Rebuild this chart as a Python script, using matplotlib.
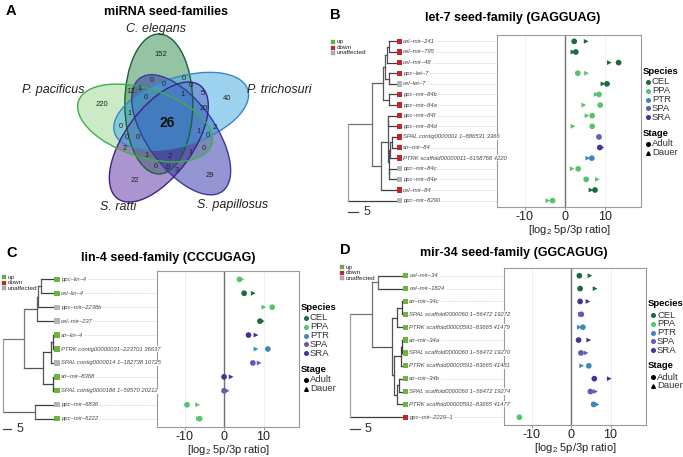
import numpy as np
import matplotlib
matplotlib.use('Agg')
import matplotlib.pyplot as plt
from matplotlib.patches import Ellipse
from matplotlib.lines import Line2D
from matplotlib.transforms import blended_transform_factory

plt.rcParams['font.family'] = ['Liberation Sans', 'DejaVu Sans']
plt.rcParams['mathtext.fontset'] = 'custom'
plt.rcParams['mathtext.rm'] = 'Liberation Sans'
plt.rcParams['axes.unicode_minus'] = False

W, H = 683, 457

# ---- panel A: shared seed families
venn_sets = ["C. elegans", "P. trichosuri", "S. papillosus", "S. ratti", "P. pacificus"]
venn_fill = ["#2a8a4a", "#3fa9e3", "#2b2da6", "#5a2aa0", "#9ad68f"]
venn_edge = ["#1f5f35", "#3b86c0", "#3a3a9a", "#3e2386", "#3fae4a"]
venn_counts = [152, 40, 29, 22, 220, 26,
               12, 1, 0, 0, 0, 0, 1, 5, 0, 20, 1, 2, 0, 1, 0, 0, 0, 0, 2, 1, 2, 1, 0, 0, 3]
# where the counts / set names sit (pixels from top-left)
venn_count_xy = [(161, 54), (227, 98), (210, 175), (135, 180), (102, 104), (167, 123),
                 (131, 91), (140, 88), (152, 80), (164, 84), (184, 78), (191, 85), (183, 94),
                 (203, 93), (146, 97), (204, 108), (130, 113), (215, 127), (121, 126),
                 (199, 131), (208, 135), (127, 137), (138, 137), (204, 148), (125, 148),
                 (147, 155), (170, 156), (191, 152), (156, 166), (168, 167), (177, 170)]
venn_label_xy = [(156, 29), (279, 90), (233, 205), (118, 207), (53, 90)]

# ---- panels B-D
species_names = ["CEL", "PPA", "PTR", "SPA", "SRA"]
species_colors = ["#1c6b3c", "#55c46c", "#3f88bf", "#5b5eb4", "#45339a"]
species_prefix = {"cel": "CEL", "ppc": "PPA", "PTRK": "PTR", "SPAL": "SPA", "str": "SRA"}
status_names = ["up", "down", "unaffected"]
status_colors = ["#6cb33f", "#c1272d", "#b5b5b5"]

let7_labels = ["cel-mir-241", "cel-mir-795", "cel-mir-48", "ppc-let-7", "cel-let-7",
               "ppc-mir-84b", "ppc-mir-84a", "ppc-mir-84f", "ppc-mir-84d",
               "SPAL contig0000001 1-886531 3366", "str-mir-84",
               "PTRK scaffold00000011-6158768 4220", "ppc-mir-84c", "ppc-mir-84e",
               "cel-mir-84", "ppc-mir-8290"]
let7_status = ["down", "down", "down", "down", "unaffected", "down", "down", "down", "down",
               "down", "down", "down", "unaffected", "unaffected", "down", "unaffected"]
let7_adult = [2.3, 2.7, 13.4, 3.2, 10.5, 8.5, 8.8, 6.8, 6.8, 8.5, 8.7, 6.7, 3.3, 5.3, 7.5, -3.1]
let7_dauer = [5.3, 2.0, 11.1, 5.4, 9.5, 7.8, 4.7, 5.5, 2.0, np.nan, 9.2, 5.7, 1.8, 8.1, 6.5, -4.3]
# (node depth, children); ints are leaf rows
let7_tree = (0, [(11.7, [(17.5, [(18.3, [(19.2, [(20.5, [0, 1]), 2]), (20.5, [3, 4])]),
                                 (20.5, [5, 6])]),
                         (16.2, [(19.7, [(20.0, [7, 8]),
                                         (20.2, [(20.8, [(21.7, [9, 10]), 11]),
                                                 (20.5, [12, 13])])]), 14])]), 15])
let7_tip = 24.5

lin4_labels = ["ppc-lin-4", "cel-lin-4", "ppc-mir-2238b", "cel-mir-237", "str-lin-4",
               "PTRK contig00000031-223701 36637", "SPAL contig0000014 1-182738 10725",
               "str-mir-8368", "SPAL contig0000186 1-59570 20212", "ppc-mir-6836",
               "ppc-mir-6222"]
lin4_status = ["up", "up", "unaffected", "unaffected", "up", "up", "unaffected", "up", "up",
               "unaffected", "up"]
lin4_adult = [3.9, 5.1, 12.2, 9.1, 6.2, 11.1, 7.3, 0.0, 0.0, -9.4, -6.2]
lin4_dauer = [4.5, 7.4, 10.1, 9.7, 8.1, 8.1, 8.9, 1.8, 0.8, -6.7, -6.5]
lin4_tree = (0, [(12.8, [(20.3, [(21.3, [(22.7, [0, 1]), 2]), 3]),
                         (24.3, [(28.7, [(29.9, [4, 5]), 6]), (30.3, [7, 8])])]),
                 (19.3, [9, 10])])
lin4_tip = 31.3

mir34_labels = ["cel-mir-34", "cel-mir-1824", "str-mir-34c", "SPAL scaffold0000060 1-56472 19272",
                "PTRK scaffold00000591-83665 41479", "str-mir-34a",
                "SPAL scaffold0000060 1-56472 19270", "PTRK scaffold00000591-83665 41481",
                "str-mir-34b", "SPAL scaffold0000060 1-56472 19274",
                "PTRK scaffold00000591-83665 41477", "ppc-mir-2229-1"]
mir34_status = ["up"] * 11 + ["down"]
mir34_adult = [2.1, 2.3, 2.3, 2.6, 3.0, 1.9, 2.5, 4.5, 5.9, 4.9, 5.7, -13.1]
mir34_dauer = [4.8, 6.1, 4.3, 2.4, 2.1, 4.5, 3.8, 2.7, 9.7, 6.2, 6.6, np.nan]
mir34_tree = (0, [(11.2, [(14.2, [0, 1]),
                          (20.8, [(23.7, [(25.8, [2, 3]), 4]),
                                  (22.2, [(25.5, [(26.2, [5, 6]), 7]),
                                          (23.3, [(24.7, [8, 9]), 10])])])]), 11])
mir34_tip = 26.7

fig = plt.figure(figsize=(W / 100, H / 100), dpi=100)


def fx(x):
    return x / W


def fy(y):
    return 1 - y / H


def px_axes(left, top, right, bottom):
    return fig.add_axes([left / W, 1 - bottom / H, (right - left) / W, (bottom - top) / H])


def tree_segments(node, tip, segs):
    if isinstance(node, (int, np.integer)):
        return tip, node + 1
    depth, children = node
    ys = []
    for ch in children:
        cd, cy = tree_segments(ch, tip, segs)
        segs.append((depth, cy, cd, cy, cd))
        ys.append(cy)
    segs.append((depth, min(ys), depth, max(ys), depth))
    return depth, np.mean(ys)


def draw_panel(labels, status, adult, dauer, tree, tip, box, root_px, ppu, tree_left,
               title, title_xy, letter, letter_xy, key_xy, bar_y):
    n = len(labels)
    l, t, r, b = box
    rows = np.arange(1, n + 1)
    sp = [species_prefix[s.split(" ")[0].split("-")[0]] for s in labels]
    cols = [species_colors[species_names.index(s)] for s in sp]

    ax = px_axes(l, t, r, b)
    for g in (-10, 10):
        ax.axvline(g, color='#ececec', lw=0.6, zorder=0)
    ax.axvline(0, color='#707070', lw=1.0, zorder=1)
    ax.scatter(adult, rows, c=cols, marker='o', s=17, linewidths=0, zorder=3)
    ax.scatter(dauer, rows, c=cols, marker='>', s=12, linewidths=0, zorder=3)
    ax.set_xlim(-17, 19)
    ax.set_ylim(n + 0.6, 0.4)
    ax.set_xticks([-10, 0, 10])
    ax.set_yticks([])
    ax.tick_params(axis='x', length=2, width=0.6, color='#888888', labelsize=9, pad=1.2,
                   labelcolor='#222222')
    for s in ax.spines.values():
        s.set_color('#9a9a9a')
        s.set_linewidth(0.8)
    ax.set_xlabel('[log$_2$ 5p/3p ratio]', fontsize=8, labelpad=-0.5, color='#222222')

    # tree
    tx = px_axes(tree_left, t, l, b)
    x_hi = (l - root_px) / ppu
    tx.set_xlim((tree_left - root_px) / ppu, x_hi)
    tx.set_ylim(n + 0.6, 0.4)
    tx.axis('off')
    segs = []
    tree_segments(tree, tip, segs)
    for x0, y0, x1, y1, d in segs:
        g = 0.62 - 0.38 * d / tip
        tx.plot([x0, x1], [y0, y1], color=(g, g, g), lw=0.9, solid_capstyle='projecting')
    sq_x = tip + 2.2 / ppu
    lab_x = tip + 6 / ppu
    tx.scatter([sq_x] * n, rows, marker='s', s=15, linewidths=0,
               c=[status_colors[status_names.index(s)] for s in status], zorder=3)
    for i, lab in enumerate(labels):
        tx.plot([lab_x, x_hi], [i + 1, i + 1], color='#c4c4c4', lw=0.5, ls=(0, (1, 1)), zorder=1)
        tx.text(lab_x, i + 1, lab.replace('-', '\u2013'), fontsize=4.2, style='italic',
                color='#454545', va='center', ha='left', zorder=2,
                bbox=dict(facecolor='white', edgecolor='none', pad=0.4))
    # scale bar
    bt = blended_transform_factory(tx.transData, fig.transFigure)
    tx.add_line(Line2D([0, 5], [fy(bar_y)] * 2, transform=bt, color='#444444', lw=0.9,
                       clip_on=False))
    tx.text(5 + 5 / ppu, fy(bar_y), '5', transform=bt, fontsize=9, va='center', ha='left',
            color='#333333', clip_on=False)

    # status key
    kx, ky = key_xy
    for i, (name, c) in enumerate(zip(status_names, status_colors)):
        fig.add_artist(Line2D([fx(kx)], [fy(ky + 5.5 * i)], marker='s', markersize=3.2,
                              color=c, markeredgecolor='#666666', markeredgewidth=0.2, ls=''))
        fig.text(fx(kx + 4), fy(ky + 5.5 * i), name, fontsize=4.6, va='center', ha='left',
                 color='#222222')

    # species / stage legend
    fig.text(fx(r + 2), fy(t + 36), 'Species', fontsize=6.8, weight='bold', va='center')
    for i, (name, c) in enumerate(zip(species_names, species_colors)):
        yy = t + 47 + 8.8 * i
        fig.add_artist(Line2D([fx(r + 7)], [fy(yy)], marker='o', markersize=2.6, color=c, ls=''))
        fig.text(fx(r + 11), fy(yy), name, fontsize=6.8, va='center', color='#333333')
    fig.text(fx(r + 2), fy(t + 98), 'Stage', fontsize=6.8, weight='bold', va='center')
    for i, (name, m) in enumerate(zip(['Adult', 'Dauer'], ['o', '^'])):
        yy = t + 109 + 8.5 * i
        fig.add_artist(Line2D([fx(r + 7)], [fy(yy)], marker=m, markersize=2.6, color='black',
                              ls=''))
        fig.text(fx(r + 11), fy(yy), name, fontsize=6.8, va='center', color='#333333')

    fig.text(fx(title_xy[0]), fy(title_xy[1]), title, fontsize=9, weight='bold',
             ha='center', va='center')
    fig.text(fx(letter_xy[0]), fy(letter_xy[1]), letter, fontsize=10.5, weight='bold',
             ha='left', va='center')


# ---- panel A
va = px_axes(0, 18, 330, 232)
va.set_xlim(0, 330)
va.set_ylim(H - 232, H - 18)
va.axis('off')
vc = (165, H - 123)
for i in [4, 0, 3, 2, 1]:
    th = np.deg2rad(108 - 72 * i)
    c = (vc[0] + 20 * np.cos(th), vc[1] + 20 * np.sin(th))
    va.add_patch(Ellipse(c, 140, 68, angle=108 - 72 * i - 18, facecolor=venn_fill[i],
                         alpha=0.5, edgecolor='none'))
for i in range(5):
    th = np.deg2rad(108 - 72 * i)
    c = (vc[0] + 20 * np.cos(th), vc[1] + 20 * np.sin(th))
    va.add_patch(Ellipse(c, 140, 68, angle=108 - 72 * i - 18, facecolor='none',
                         edgecolor=venn_edge[i], lw=1.0))
for k, (cnt, (x, y)) in enumerate(zip(venn_counts, venn_count_xy)):
    if k == 5:
        va.text(x, H - y, str(cnt), fontsize=10, weight='bold', ha='center', va='center',
                color='#111111')
    else:
        va.text(x, H - y, str(cnt), fontsize=5.5, ha='center', va='center', color='#222222')
for name, (x, y) in zip(venn_sets, venn_label_xy):
    va.text(x, H - y, name, fontsize=9, style='italic', ha='center', va='center',
            color='#222222')
fig.text(fx(166), fy(12), 'miRNA seed-families', fontsize=9, weight='bold', ha='center',
         va='center')
fig.text(fx(6), fy(11), 'A', fontsize=10.5, weight='bold', ha='left', va='center')

draw_panel(let7_labels, let7_status, let7_adult, let7_dauer, let7_tree, let7_tip,
           (497, 35, 641, 207), 348.3, 2.0, 340, 'let-7 seed-family (GAGGUAG)', (513, 18),
           'B', (330, 15), (333, 42), 212)
draw_panel(lin4_labels, lin4_status, lin4_adult, lin4_dauer, lin4_tree, lin4_tip,
           (157, 271, 299, 427), 2.7, 1.67, 0, 'lin-4 seed-family (CCCUGAG)', (168, 258),
           'C', (6, 253), (3.5, 277), 429)
draw_panel(mir34_labels, mir34_status, mir34_adult, mir34_dauer, mir34_tree, mir34_tip,
           (504, 268, 646, 425), 350, 2.0, 340, 'mir-34 seed-family (GGCAGUG)', (514, 253),
           'D', (340, 250), (342, 267), 429)

fig.savefig('out.png', dpi=100)
